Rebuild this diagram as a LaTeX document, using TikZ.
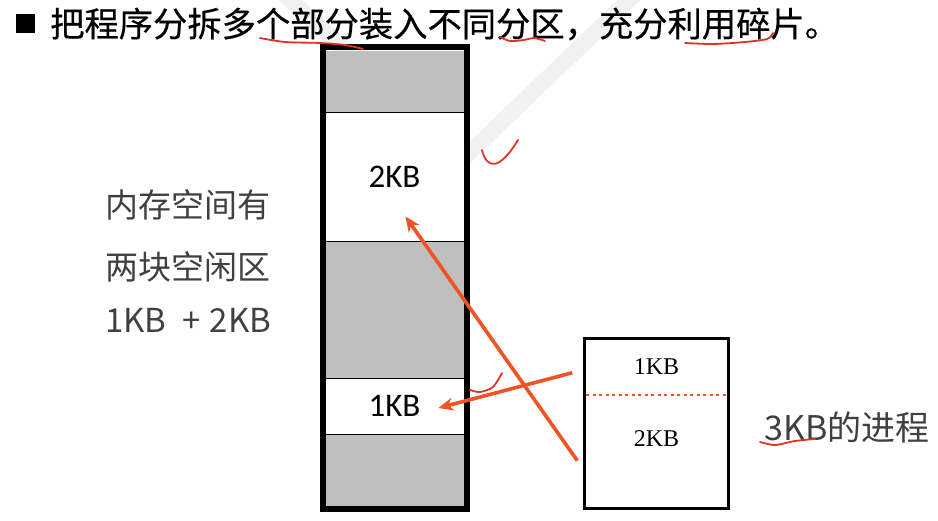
\documentclass[tikz,border=0pt]{standalone}
\usepackage{fontspec}
\usepackage{tikz}
\usetikzlibrary{arrows.meta,positioning}
\setmainfont{Liberation Serif}
\newfontfamily\cjkfont{Noto Sans CJK SC}
\newfontfamily\cjkheavy[FakeBold=0.4]{Noto Sans CJK SC}
\newfontfamily\calfont{Carlito}
\definecolor{block gray}{RGB}{191,191,191}
\definecolor{note gray}{RGB}{64,64,64}
\definecolor{pen orange}{RGB}{240,84,36}
\definecolor{ink red}{RGB}{222,52,34}
\definecolor{mark gray}{RGB}{241,241,241}

\tikzset{
  freeblock/.style={draw=black, line width=0.8pt, fill=white, inner sep=0pt,
    font=\calfont\fontsize{33}{33}\selectfont},
  procpart/.style={inner sep=0pt, minimum width=144pt, font=\fontsize{24}{24}\selectfont},
  partlabel/.style={inner sep=0pt, font=\fontsize{24}{24}\selectfont},
  notetext/.style={anchor=west, inner sep=0pt, text=note gray,
    font=\cjkfont\fontsize{33}{33}\selectfont},
  moveto/.style={pen orange, line width=3.6pt, -{Stealth[length=15pt,width=13pt]}},
  scribble/.style={ink red, line width=1.8pt, line cap=round, line join=round}
}

\begin{document}
\begin{tikzpicture}[x=1pt, y=-1pt]
	\useasboundingbox (0,0) rectangle (938,521);
	% faint watermark behind everything
	\draw[mark gray, line width=16pt] (262,-26) -- (463,159) -- (655,-25);
	% heading
	\node[fill=black, minimum size=19pt, inner sep=0pt] (bullet) at (25,24) {};
	\node[anchor=west, inner sep=0pt, font=\cjkheavy\fontsize{34.3}{34.3}\selectfont]
		(title) at (50,24) {把程序分拆多个部分装入不同分区，充分利用碎片。};
	% memory column
	\begin{scope}
		\fill[block gray] (326,51) rectangle (464,506);
		\node[freeblock, minimum width=139pt, minimum height=129pt] (free2) at (394.5,176.5) {2KB};
		\node[freeblock, minimum width=139pt, minimum height=56pt] (free1) at (394.5,406) {1KB};
		\draw[line width=6pt] (323,47.5) rectangle (467,508.5);
	\end{scope}
	% notes on the left
	\node[notetext] (note1) at (105,205) {内存空间有};
	\node[notetext] (note2) at (105,267) {两块空闲区};
	\node[notetext] (note3) at (105,320) {1KB\hspace{16pt}+\hspace{9pt}2KB};
	% the 3KB process
	\node[procpart, minimum height=56.5pt] (procA) at (656.5,366.75) {1KB};
	\node[procpart, minimum height=112.5pt, below=0pt of procA] (procB) {};
	\node[partlabel, below=35pt of procB.north] (procBtext) {2KB};
	\draw[line width=3pt] (procA.north west) rectangle (procB.south east);
	\draw[pen orange, line width=2.5pt, dash pattern=on 3pt off 3.5pt]
		([xshift=2pt]procA.south west) -- ([xshift=-2pt]procA.south east);
	\node[notetext, font=\cjkfont\fontsize{34}{34}\selectfont] (proclabel) at (764,427) {3KB的进程};
	% where the parts go
	\draw[moveto] ([shift={(-7,9)}]procB.west) -- ([shift={(11,40)}]free2.center);
	\draw[moveto] ([shift={(-12,6)}]procA.west) -- ([shift={(-26,2)}]free1.east);
	% hand-drawn marks
	\draw[scribble] plot[smooth] coordinates {(260,38) (285,42) (320,43) (345,45) (363,49)};
	\draw[scribble] plot[smooth] coordinates {(500,37) (510,41) (524,40) (534,38) (545,41)};
	\draw[scribble] plot[smooth] coordinates {(685,43) (713,44) (745,42) (767,39) (773,33)};
	\draw[scribble] (482,150) .. controls (487,170) and (500,170) .. (518,140);
	\draw[scribble] plot[smooth] coordinates {(470,390) (480,392) (493,387) (502,373)};
	\draw[scribble] plot[smooth] coordinates {(760,442) (775,445) (795,441) (815,439)};
\end{tikzpicture}
\end{document}
